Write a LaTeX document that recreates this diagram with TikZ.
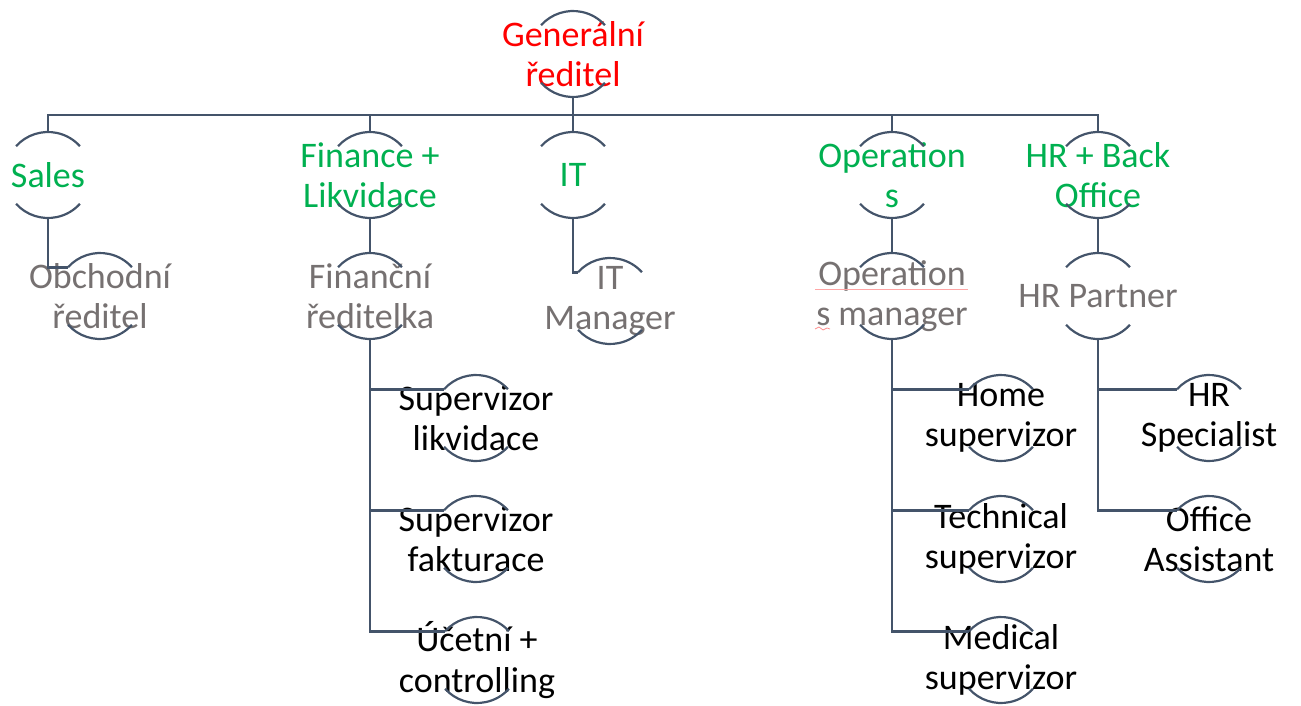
\documentclass[tikz,border=0pt]{standalone}
\usepackage{fontspec}
\setmainfont{Carlito}
\usetikzlibrary{calc}
\definecolor{lineC}{RGB}{68,84,106}
\definecolor{topC}{RGB}{255,0,0}
\definecolor{grnC}{RGB}{0,176,80}
\definecolor{gryC}{RGB}{118,113,113}
\definecolor{blkC}{RGB}{0,0,0}
\tikzset{
  lbl/.style={align=center,inner sep=0pt,font=\fontsize{36}{40.5}\selectfont},
  arcline/.style={draw=lineC,line width=2.2pt},
  conn/.style={draw=lineC,line width=2.6pt,line join=miter},
}
\newcommand{\onode}[5]{%
  \node[lbl,text=#4] (#1) at (#2,-#3) {#5};
  \coordinate (#1-t) at ($(#1.center)+(0,43)$);
  \coordinate (#1-b) at ($(#1.center)+(0,-43)$);
  \coordinate (#1-l) at ($(#1.center)+(138:43)$);
  \draw[arcline] (#1-l) arc[start angle=138,end angle=42,radius=43];
  \draw[arcline] ($(#1.center)+(-138:43)$) arc[start angle=-138,end angle=-42,radius=43];
}
\begin{document}
\begin{tikzpicture}[x=1pt,y=1pt]
\useasboundingbox (0,0) rectangle (1301,-706);
% level 0
\onode{gen}{573}{54}{topC}{Generální\\ředitel}
% level 1
\onode{sales}{48}{175}{grnC}{Sales}
\onode{fin}{370}{175}{grnC}{Finance +\\Likvidace}
\onode{it}{573}{175}{grnC}{IT}
\onode{ops}{892}{175}{grnC}{Operation\\s}
\onode{hr}{1098}{175}{grnC}{HR + Back\\Office}
% level 2
\onode{obch}{100}{296}{gryC}{Obchodní\\ředitel}
\onode{finr}{370}{296}{gryC}{Finanční\\ředitelka}
\onode{itm}{610}{301}{gryC}{IT\\Manager}
\onode{opsm}{892}{296}{gryC}{Operation\\s manager}
\onode{hrp}{1098}{296}{gryC}{HR Partner}
% level 3
\onode{sl}{476}{418}{blkC}{Supervizor\\likvidace}
\onode{sf}{476}{539}{blkC}{Supervizor\\fakturace}
\onode{uc}{477}{660}{blkC}{Účetní +\\controlling}
\onode{hs}{1001}{418}{blkC}{Home\\supervizor}
\onode{ts}{1001}{539}{blkC}{Technical\\supervizor}
\onode{ms}{1001}{660}{blkC}{Medical\\supervizor}
\onode{hrs}{1209}{418}{blkC}{HR\\Specialist}
\onode{oa}{1209}{539}{blkC}{Office\\Assistant}
% spell-check marks
\draw[red!35,line width=0.7pt] (815,-289) -- (968,-289);
\draw[red!45,line width=0.7pt] (815,-329) -- (819,-327) -- (823,-330) -- (827,-328) -- (830,-329);
% connectors
\coordinate (bus) at (573,-115);
\draw[conn] (gen-b) -- (bus);
\draw[conn] (bus) -| (sales-t);
\draw[conn] (bus) -| (fin-t);
\draw[conn] (bus) -- (it-t);
\draw[conn] (bus) -| (ops-t);
\draw[conn] (bus) -| (hr-t);
\draw[conn] (sales-b) |- (obch-l);
\draw[conn] (fin-b) -- (finr-t);
\draw[conn] (it-b) |- (itm-l);
\draw[conn] (ops-b) -- (opsm-t);
\draw[conn] (hr-b) -- (hrp-t);
\draw[conn] (finr-b) |- (sl-l);
\draw[conn] (finr-b) |- (sf-l);
\draw[conn] (finr-b) |- (uc-l);
\draw[conn] (opsm-b) |- (hs-l);
\draw[conn] (opsm-b) |- (ts-l);
\draw[conn] (opsm-b) |- (ms-l);
\draw[conn] (hrp-b) |- (hrs-l);
\draw[conn] (hrp-b) |- (oa-l);
\end{tikzpicture}
\end{document}
